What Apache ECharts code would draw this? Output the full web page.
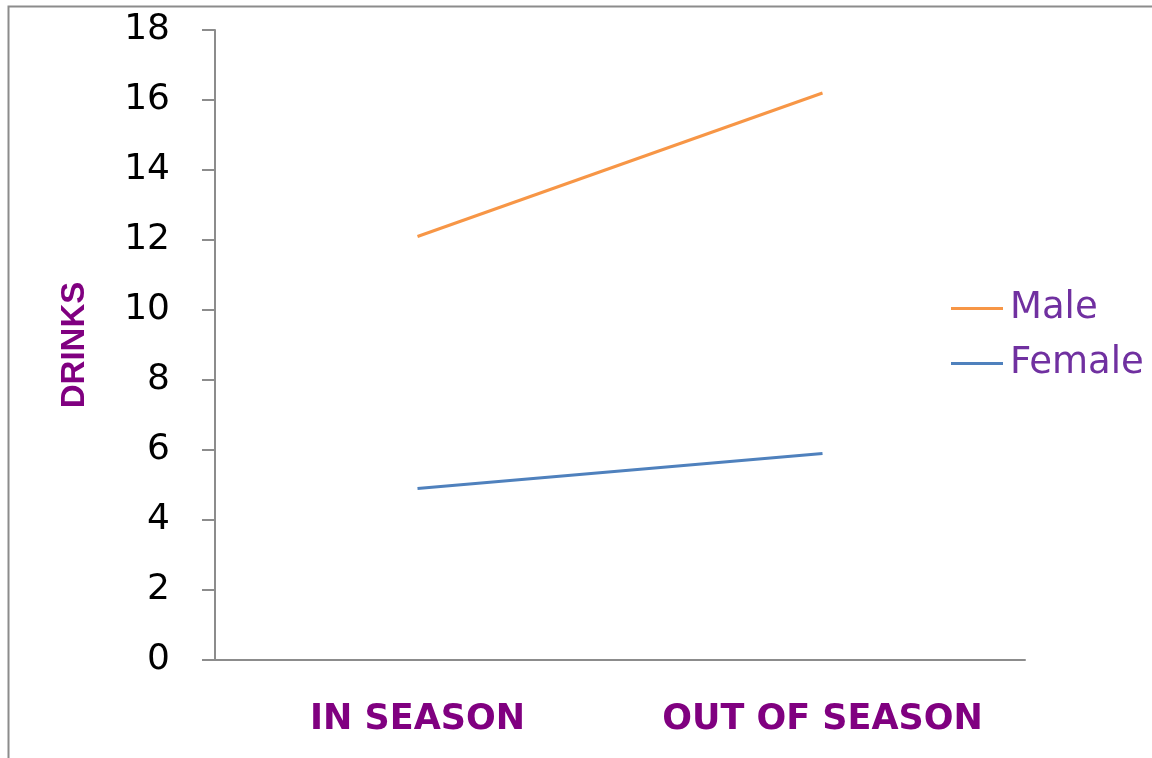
<!DOCTYPE html>
<html>
<head>
<meta charset="utf-8">
<script src="https://cdn.jsdelivr.net/npm/echarts@6/dist/echarts.min.js"></script>
<style>
html,body{margin:0;padding:0;background:#fff;}
#chart{width:1152px;height:758px;}
</style>
</head>
<body>
<div id="chart"></div>
<script>
const categories = ['IN SEASON', 'OUT OF SEASON'];
const maleValues = [12.1, 16.2];
const femaleValues = [4.9, 5.9];
const seriesNames = ['Male', 'Female'];
const yAxisTitle = 'DRINKS';

const chart = echarts.init(document.getElementById('chart'));
chart.setOption({
  backgroundColor: '#ffffff',
  animation: false,
  graphic: [{
    type: 'rect',
    left: 6, top: 4,
    shape: {width: 1200, height: 800},
    style: {fill: 'none', stroke: '#8c8c8c', lineWidth: 2},
    silent: true, z: -1
  }],
  grid: {left: 215, right: 127, top: 30, bottom: 98},
  legend: {
    orient: 'vertical',
    left: 946, top: 285,
    itemWidth: 52, itemHeight: 3,
    itemGap: 18,
    icon: 'rect',
    data: seriesNames,
    textStyle: {color: '#7030A0', fontFamily: 'DejaVu Sans', fontSize: 37, lineHeight: 36, padding: [0,0,0,2]}
  },
  xAxis: {
    type: 'category',
    data: categories,
    boundaryGap: true,
    axisLine: {show: true, lineStyle: {color: '#8c8c8c', width: 2}},
    axisTick: {show: false},
    axisLabel: {
      interval: 0,
      hideOverlap: false,
      margin: 42,
      color: '#800080', fontWeight: 'bold', fontFamily: 'DejaVu Sans', fontSize: 35
    },
    splitLine: {show: false}
  },
  yAxis: {
    type: 'value',
    min: 0, max: 18, interval: 2,
    name: yAxisTitle,
    nameLocation: 'middle',
    nameRotate: 90,
    nameGap: 124,
    nameTextStyle: {color: '#800080', fontWeight: 'bold', fontFamily: 'Liberation Sans', fontSize: 33},
    axisLine: {show: true, lineStyle: {color: '#8c8c8c', width: 2}},
    axisTick: {show: true, inside: false, length: 13, lineStyle: {color: '#8c8c8c', width: 2}},
    axisLabel: {margin: 45, color: '#000', fontFamily: 'DejaVu Sans', fontSize: 36},
    splitLine: {show: false}
  },
  series: [
    {name: seriesNames[0], type: 'line', data: maleValues, symbol: 'none', lineStyle: {color: '#F79646', width: 3}, itemStyle: {color: '#F79646'}},
    {name: seriesNames[1], type: 'line', data: femaleValues, symbol: 'none', lineStyle: {color: '#4F81BD', width: 3}, itemStyle: {color: '#4F81BD'}}
  ]
});
</script>
</body>
</html>
